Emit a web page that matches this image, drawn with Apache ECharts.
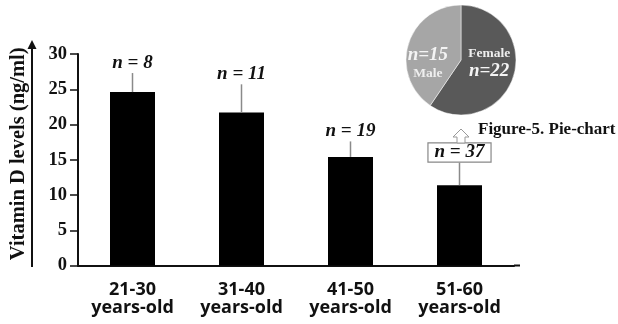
<!DOCTYPE html>
<html>
<head>
<meta charset="utf-8">
<script src="https://cdn.jsdelivr.net/npm/echarts@6/dist/echarts.min.js"></script>
<style>html,body{margin:0;padding:0;background:#fff;}#c{width:618px;height:324px;}</style>
</head>
<body>
<div id="c"></div>
<script>
var categories = ['21-30\nyears-old', '31-40\nyears-old', '41-50\nyears-old', '51-60\nyears-old'];
var meanValues = [24.6, 21.7, 15.4, 11.4];
var upperValues = [27.3, 25.7, 17.6, 14.6];
var groupSizes = ['n = 8', 'n = 11', 'n = 19', 'n = 37'];
var yTicks = [0, 5, 10, 15, 20, 25, 30];
var pieNames = ['Female', 'Male'];
var pieValues = [22, 15];

var chart = echarts.init(document.getElementById('c'), null, {renderer: 'canvas'});
var serif = '"Liberation Serif", "DejaVu Serif", serif';

var option = {
  animation: false,
  backgroundColor: '#fff',
  grid: {left: 74, right: 104, top: 54, bottom: 58.5, containLabel: false},
  xAxis: {
    type: 'category',
    data: categories,
    axisLine: {show: true, lineStyle: {color: '#111', width: 2}},
    axisTick: {show: false},
    axisLabel: {
      interval: 0,
      hideOverlap: false,
      margin: 15,
      color: '#111',
      fontFamily: '"Open Sans", sans-serif',
      fontWeight: 'bold',
      fontSize: 18,
      lineHeight: 18
    }
  },
  yAxis: {
    type: 'value',
    min: yTicks[0],
    max: yTicks[yTicks.length - 1],
    interval: yTicks[1] - yTicks[0],
    name: 'Vitamin D levels (ng/ml)',
    nameLocation: 'middle',
    nameRotate: 90,
    nameGap: 49,
    nameTextStyle: {fontFamily: serif, fontWeight: 'bold', fontSize: 20.5, color: '#111', padding: [0, 0, 0, 12]},
    axisLine: {show: true, lineStyle: {color: '#111', width: 2}},
    axisTick: {show: true, length: 8, lineStyle: {color: '#111', width: 1.5}},
    splitLine: {show: false},
    axisLabel: {margin: 11, color: '#111', fontFamily: serif, fontWeight: 'bold', fontSize: 18.5}
  },
  series: [
    {
      type: 'bar',
      data: meanValues,
      barWidth: 45,
      itemStyle: {color: '#000'},
      z: 2
    },
    {
      type: 'custom',
      z: 3,
      data: categories.map(function (c, i) { return [i, meanValues[i], upperValues[i]]; }),
      renderItem: function (params, api) {
        var i = api.value(0);
        var p0 = api.coord([i, api.value(1)]);
        var p1 = api.coord([i, api.value(2)]);
        var boxed = (i === categories.length - 1);
        var textStyle = {
          text: groupSizes[i],
          x: p1[0],
          y: p1[1] - 10,
          align: 'center',
          verticalAlign: 'middle',
          font: 'italic bold 19px ' + serif,
          fill: '#111'
        };
        if (boxed) {
          textStyle.backgroundColor = '#fff';
          textStyle.borderColor = '#888';
          textStyle.borderWidth = 1.2;
          textStyle.padding = [0, 6, -1, 6];
        }
        return {
          type: 'group',
          children: [
            {type: 'line', shape: {x1: p0[0], y1: p0[1], x2: p1[0], y2: p1[1]}, style: {stroke: '#8a8a8a', lineWidth: 1.5}},
            {type: 'text', style: textStyle}
          ]
        };
      }
    },
    {
      type: 'pie',
      center: [461, 60],
      radius: [0, 55],
      startAngle: 90,
      clockwise: true,
      data: pieNames.map(function (n, i) { return {name: n, value: pieValues[i]}; }),
      color: ['#595959', '#a6a6a6'],
      itemStyle: {borderColor: '#fff', borderWidth: 0.5},
      label: {
        show: true,
        position: 'inside',
        formatter: function (p) {
          if (p.dataIndex === 0) return '{a|' + p.name + '}\n{b|n=' + p.value + '}';
          return '{b|n=' + p.value + '}\n{a|' + p.name + '}';
        },
        rich: {
          a: {fontFamily: serif, fontWeight: 'bold', fontSize: 13.5, color: '#eee', lineHeight: 17},
          b: {fontFamily: serif, fontWeight: 'bold', fontStyle: 'italic', fontSize: 19, color: '#f4f4f4', lineHeight: 18}
        }
      },
      labelLayout: function (params) {
        if (params.dataIndex === 0) return {dx: -1, dy: -6};
        return {dx: -4, dy: 13};
      },
      emphasis: {disabled: true},
      silent: true
    }
  ],
  graphic: [
    {type: 'line', shape: {x1: 32, y1: 267, x2: 32, y2: 46}, style: {stroke: '#111', lineWidth: 2}},
    {type: 'polygon', shape: {points: [[32, 40], [27.5, 49], [36.5, 49]]}, style: {fill: '#111'}},
    {type: 'line', shape: {x1: 514, y1: 265.5, x2: 520, y2: 265.5}, style: {stroke: '#111', lineWidth: 2}},
    {type: 'polygon', z: 10, shape: {points: [[461, 129], [469, 137], [465, 137], [465, 143], [457, 143], [457, 137], [453, 137]]}, style: {fill: '#fff', stroke: '#999', lineWidth: 1}},
    {type: 'text', left: 478, top: 121, style: {text: 'Figure-5. Pie-chart', font: 'bold 17px ' + serif, fill: '#111'}}
  ]
};
chart.setOption(option);
</script>
</body>
</html>
